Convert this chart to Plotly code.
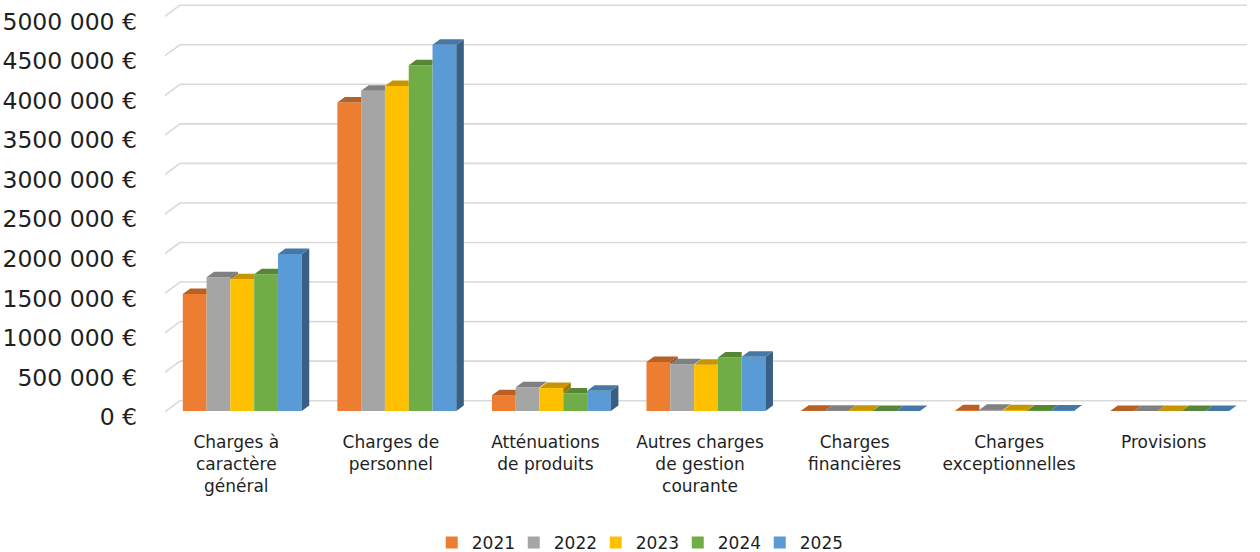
import plotly.graph_objects as go

# ---------------- data ----------------
categories = [
    "Charges à<br>caractère<br>général",
    "Charges de<br>personnel",
    "Atténuations<br>de produits",
    "Autres charges<br>de gestion<br>courante",
    "Charges<br>financières",
    "Charges<br>exceptionnelles",
    "Provisions",
]
years = ["2021", "2022", "2023", "2024", "2025"]
v2021 = [1480000, 3900000, 200000, 620000, 3000, 8000, 0]
v2022 = [1690000, 4050000, 300000, 590000, 2500, 15000, 0]
v2023 = [1665000, 4110000, 290000, 585000, 2000, 10000, 0]
v2024 = [1730000, 4370000, 220000, 675000, 1500, 6000, 0]
v2025 = [1985000, 4630000, 255000, 685000, 1000, 5000, 0]
series = [v2021, v2022, v2023, v2024, v2025]
tick_values = [0, 500000, 1000000, 1500000, 2000000, 2500000, 3000000,
               3500000, 4000000, 4500000, 5000000]
tick_labels = ["0 €", "500 000 €", "1000 000 €", "1500 000 €", "2000 000 €",
               "2500 000 €", "3000 000 €", "3500 000 €", "4000 000 €",
               "4500 000 €", "5000 000 €"]

# ---------------- style ----------------
colors = ["#ED7D31", "#A5A5A5", "#FFC000", "#70AD47", "#5B9BD5"]
FONT = "DejaVu Sans"
TXT = "#1f1f1f"
GRID = "#d9d9d9"


def shade(hex_color, f):
    h = hex_color.lstrip("#")
    r, g, b = (int(h[i:i + 2], 16) for i in (0, 2, 4))
    return "#%02x%02x%02x" % (int(r * f), int(g * f), int(b * f))


# pixel geometry -> axis units
PX_PER_UNIT_X = 154.6          # one category
PX_PER_EUR = 79.1e-6           # vertical scale
bar_w = 23.8 / PX_PER_UNIT_X
first_off = -0.385 + bar_w / 2
depth_dx = 7.5 / PX_PER_UNIT_X
depth_dy = 5.5 / PX_PER_EUR
back_dy = 10.3 / PX_PER_EUR      # back wall above the bars
front_dy = -6.0 / PX_PER_EUR     # front plane (labels) below the bars
label_dx = -6.0 / PX_PER_UNIT_X
wall_x0 = -0.5 - 7.0 / PX_PER_UNIT_X
wall_x1 = -0.5 + 15.0 / PX_PER_UNIT_X
wall_x2 = 6.5 + 10.0 / PX_PER_UNIT_X

y_lo = (411 - 420) / PX_PER_EUR
y_hi = 411 / PX_PER_EUR

fig = go.Figure()

# 3D faces (only the visible parts, since they are drawn above the bar fronts)
n_series = len(series)
for k, vals in enumerate(series):
    off = first_off + k * bar_w
    tx, ty, sx, sy = [], [], [], []
    for i, v in enumerate(vals):
        xl = i + off - bar_w / 2
        xr = i + off + bar_w / 2
        nxt = series[k + 1][i] if k + 1 < n_series else None
        # top face
        if nxt is not None and nxt > v:
            tx += [xl, xr, xr, xl + depth_dx, xl, None]
            ty += [v, v, v + depth_dy, v + depth_dy, v, None]
        else:
            tx += [xl, xr, xr + depth_dx, xl + depth_dx, xl, None]
            ty += [v, v, v + depth_dy, v + depth_dy, v, None]
        # right side face (part not hidden by the next bar)
        lo = nxt if nxt is not None else 0
        if v > lo:
            sx += [xr, xr + depth_dx, xr + depth_dx, xr, xr, None]
            sy += [lo, lo + depth_dy, v + depth_dy, v, lo, None]
    if sx:
        fig.add_trace(go.Scatter(x=sx, y=sy, fill="toself", mode="lines",
                                 line=dict(width=0),
                                 fillcolor=shade(colors[k], 0.62),
                                 hoverinfo="skip", showlegend=False))
    fig.add_trace(go.Scatter(x=tx, y=ty, fill="toself", mode="lines",
                             line=dict(width=0), fillcolor=shade(colors[k], 0.78),
                             hoverinfo="skip", showlegend=False))

# bar fronts
for k, (name, vals) in enumerate(zip(years, series)):
    off = first_off + k * bar_w
    fig.add_trace(go.Bar(
        x=[i + off for i in range(len(categories))], y=vals, width=bar_w,
        name=name, marker=dict(color=colors[k], line=dict(width=0)),
    ))

# back-wall gridlines with side-wall diagonal
shapes = []
for t in tick_values:
    shapes.append(dict(type="line", xref="x", yref="y", layer="below",
                       x0=wall_x1, x1=wall_x2, y0=t + back_dy, y1=t + back_dy,
                       line=dict(color=GRID, width=1.6)))
    shapes.append(dict(type="line", xref="x", yref="y", layer="below",
                       x0=wall_x0, x1=wall_x1, y0=t + front_dy, y1=t + back_dy,
                       line=dict(color=GRID, width=1.6)))

fig.update_layout(
    width=1260, height=552,
    margin=dict(l=165, r=13, t=0, b=132, autoexpand=False),
    paper_bgcolor="white", plot_bgcolor="white",
    barmode="overlay",
    shapes=shapes,
    font=dict(family=FONT, color=TXT),
    xaxis=dict(range=[-0.5, 6.5], tickmode="array",
               tickvals=[i + label_dx for i in range(len(categories))],
               ticktext=categories, showgrid=False, zeroline=False,
               showline=False, ticks="", tickfont=dict(size=17),
               ticklabelstandoff=10, automargin=False),
    yaxis=dict(range=[y_lo, y_hi], tickmode="array",
               tickvals=[t + front_dy for t in tick_values],
               ticktext=tick_labels, showgrid=False, zeroline=False,
               showline=False, ticks="", tickfont=dict(size=23.5),
               ticklabelstandoff=27, automargin=False),
    legend=dict(orientation="h", x=0.436, xanchor="center", y=-0.293,
                yanchor="middle", font=dict(size=17), itemwidth=30,
                entrywidth=37, traceorder="normal"),
    showlegend=True,
)

fig.write_html("out.html")
